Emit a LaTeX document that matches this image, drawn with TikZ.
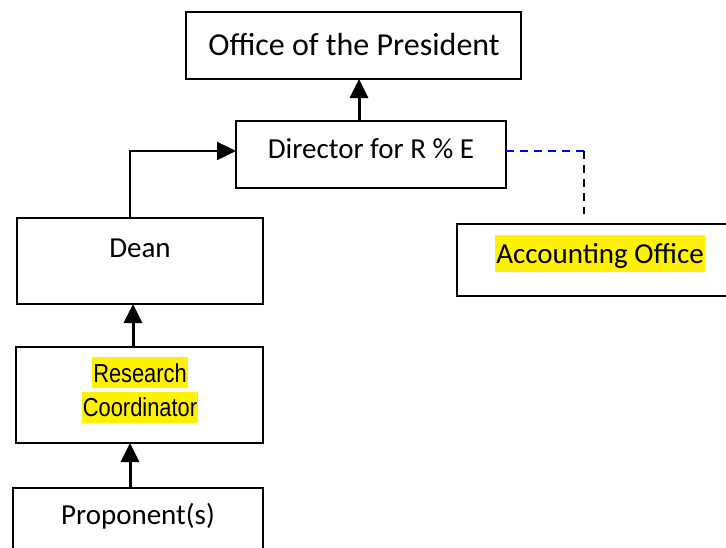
\documentclass[tikz,border=0pt]{standalone}
\usepackage{fontspec}
\setmainfont{Carlito}
\newfontfamily\arialfont{Liberation Sans}
\usetikzlibrary{arrows.meta}
\tikzset{
  box/.style={draw=black, line width=2.6pt, rectangle, anchor=north west, inner sep=0pt, outer sep=0pt},
  lbl/.style={anchor=base, inner sep=0pt, font=\fontsize{29}{34}\selectfont},
  hl/.style={fill=yellow, anchor=base, inner xsep=1pt, inner ysep=0pt},
  arr/.style={line width=3pt, -{Triangle[length=19pt,width=18pt]}},
  bdash/.style={draw=blue, line width=1.8pt, dash pattern=on 8pt off 6pt},
  kdash/.style={draw=black, line width=1.8pt, dash pattern=on 8pt off 6pt},
}
\begin{document}
\begin{tikzpicture}[x=1pt,y=-1pt]
\useasboundingbox (0,0) rectangle (726,547);
\clip (0,0) rectangle (726,547);
% boxes
\node[box, minimum width=335pt, minimum height=67pt] (pres) at (186,12) {};
\node[box, minimum width=270pt, minimum height=67pt] (dir) at (236,121) {};
\node[box, minimum width=246pt, minimum height=86pt] (dean) at (17,218) {};
\node[box, minimum width=247pt, minimum height=96pt] (rc) at (16,347) {};
\node[box, minimum width=250pt, minimum height=80pt, line width=1.8pt] (prop) at (13,488) {};
\node[box, minimum width=300pt, minimum height=72pt] (acc) at (457,224) {};
% texts
\node[lbl, font=\fontsize{32}{38}\selectfont] (presT) at (354,55) {Office of the President};
\node[lbl] (dirT) at (371,158) {Director for R \% E};
\node[lbl] (deanT) at (140,257) {Dean};
\node[hl, font=\arialfont\fontsize{26}{30}\selectfont, text height=25pt, text depth=6pt] (rcT1) at (140,382) {\scalebox{0.84}[1]{Research}};
\node[hl, font=\arialfont\fontsize{26}{30}\selectfont, text height=24pt, text depth=7pt] (rcT2) at (140,416) {\scalebox{0.84}[1]{Coordinator}};
\node[lbl] (propT) at (138,524) {Proponent(s)};
\node[hl, font=\fontsize{29}{34}\selectfont, text height=28pt, text depth=9pt] (accT) at (600,263) {Accounting Office};
% connector columns
\coordinate (xa) at (359,0);
\coordinate (xb) at (130,151);
\coordinate (xc) at (133,0);
\coordinate (xd) at (130,0);
\coordinate (dcorner) at (584,151);
\coordinate (dend) at (584,214);
% connectors
\draw[arr] (dir.north -| xa) -- (pres.south -| xa);
\draw[arr, line width=2.4pt] (dean.north -| xb) -- (xb) -- (dir.west |- xb);
\draw[arr] (rc.north -| xc) -- (dean.south -| xc);
\draw[arr] (prop.north -| xd) -- (rc.south -| xd);
\draw[bdash] (dir.east |- dcorner) -- (dcorner);
\draw[kdash] (dcorner) -- (dend);
\end{tikzpicture}
\end{document}
